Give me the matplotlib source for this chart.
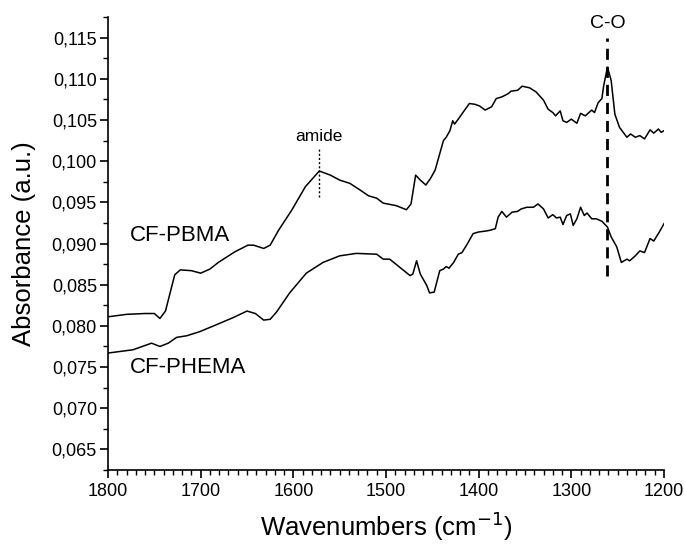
import matplotlib
matplotlib.use('Agg')
import matplotlib.pyplot as plt
from matplotlib.ticker import MultipleLocator, FuncFormatter

plt.rcParams['font.family'] = ['Liberation Sans', 'DejaVu Sans']

# CF-PBMA spectrum
wn_pbma = [1800, 1780, 1760, 1750, 1744, 1738, 1733, 1728, 1722, 1710,
           1700, 1690, 1681, 1663, 1649, 1643, 1632, 1625, 1616, 1602,
           1587, 1572, 1560, 1550, 1539, 1528, 1519, 1510, 1503, 1489,
           1478, 1473, 1468, 1463, 1457, 1452, 1447, 1442, 1438, 1435,
           1431, 1428, 1426, 1422, 1417, 1410, 1404, 1399, 1393, 1386,
           1381, 1375, 1368, 1365, 1358, 1353, 1345, 1338, 1330, 1325,
           1320, 1317, 1312, 1309, 1305, 1300, 1294, 1290, 1285, 1282,
           1278, 1275, 1271, 1267, 1265, 1261, 1257, 1253, 1248, 1240,
           1236, 1231, 1226, 1221, 1215, 1211, 1206, 1203, 1200]
abs_pbma = [0.0811, 0.0814, 0.0815, 0.0815, 0.0809, 0.0818, 0.0840, 0.0862, 0.0868, 0.0867,
            0.0864, 0.0869, 0.0877, 0.0890, 0.0898, 0.0898, 0.0894, 0.0898, 0.0916, 0.0940,
            0.0969, 0.0988, 0.0983, 0.0977, 0.0973, 0.0965, 0.0958, 0.0955, 0.0949, 0.0946,
            0.0941, 0.0948, 0.0983, 0.0977, 0.0971, 0.0979, 0.0989, 0.1009, 0.1025, 0.1029,
            0.1037, 0.1049, 0.1045, 0.1051, 0.1059, 0.1070, 0.1069, 0.1067, 0.1062, 0.1066,
            0.1076, 0.1078, 0.1082, 0.1085, 0.1086, 0.1091, 0.1089, 0.1084, 0.1074, 0.1063,
            0.1059, 0.1055, 0.1061, 0.1049, 0.1047, 0.1051, 0.1046, 0.1058, 0.1055, 0.1058,
            0.1062, 0.1059, 0.1071, 0.1076, 0.1092, 0.1114, 0.1098, 0.1057, 0.1041, 0.1029,
            0.1033, 0.1029, 0.1031, 0.1027, 0.1038, 0.1034, 0.1039, 0.1035, 0.1037]

# CF-PHEMA spectrum
wn_phema = [1800, 1773, 1753, 1744, 1735, 1726, 1715, 1701, 1686, 1665,
            1650, 1641, 1632, 1625, 1618, 1604, 1586, 1568, 1550, 1532,
            1510, 1503, 1496, 1485, 1474, 1471, 1467, 1463, 1456, 1453,
            1448, 1442, 1438, 1435, 1432, 1427, 1422, 1418, 1413, 1406,
            1400, 1393, 1388, 1382, 1379, 1375, 1370, 1364, 1358, 1354,
            1348, 1341, 1336, 1330, 1325, 1320, 1316, 1312, 1309, 1305,
            1301, 1298, 1294, 1290, 1286, 1283, 1278, 1273, 1267, 1261,
            1257, 1251, 1246, 1240, 1237, 1231, 1226, 1221, 1215, 1211,
            1205, 1200]
abs_phema = [0.0767, 0.0771, 0.0779, 0.0775, 0.0779, 0.0786, 0.0788, 0.0793, 0.0800, 0.0810,
             0.0818, 0.0815, 0.0807, 0.0808, 0.0817, 0.0840, 0.0864, 0.0877, 0.0885, 0.0888,
             0.0887, 0.0881, 0.0881, 0.0871, 0.0861, 0.0863, 0.0879, 0.0863, 0.0849, 0.0840,
             0.0841, 0.0867, 0.0869, 0.0872, 0.0870, 0.0877, 0.0887, 0.0889, 0.0898, 0.0912,
             0.0914, 0.0915, 0.0916, 0.0918, 0.0932, 0.0939, 0.0932, 0.0938, 0.0939, 0.0942,
             0.0944, 0.0944, 0.0948, 0.0942, 0.0931, 0.0935, 0.0931, 0.0932, 0.0923, 0.0934,
             0.0936, 0.0922, 0.0930, 0.0944, 0.0934, 0.0937, 0.0930, 0.0930, 0.0927, 0.0920,
             0.0908, 0.0896, 0.0877, 0.0881, 0.0879, 0.0885, 0.0891, 0.0889, 0.0906, 0.0903,
             0.0914, 0.0924]

# band markers
amide_wn = 1572
amide_range = [0.0956, 0.1015]
co_wn = 1261
co_range = [0.0861, 0.1149]

fig = plt.figure(figsize=(6.85, 5.45), dpi=100)
ax = fig.add_axes([0.1577, 0.1376, 0.9693 - 0.1577, 0.9688 - 0.1376])

ax.plot(wn_pbma, abs_pbma, color='black', lw=1.1)
ax.plot(wn_phema, abs_phema, color='black', lw=1.1)

ax.plot([amide_wn, amide_wn], amide_range, color='black', lw=1.0, linestyle=(0, (1.5, 1.5)))
ax.plot([co_wn, co_wn], co_range, color='black', lw=2.0, linestyle=(0, (4, 2.5)))

ax.text(amide_wn, 0.1030, 'amide', ha='center', va='center', fontsize=12.5)
ax.text(co_wn, 0.1167, 'C-O', ha='center', va='center', fontsize=14)
ax.text(1776, 0.0910, 'CF-PBMA', ha='left', va='center', fontsize=16)
ax.text(1776, 0.0750, 'CF-PHEMA', ha='left', va='center', fontsize=16)

ax.set_xlim(1800, 1200)
ax.set_ylim(0.0625, 0.1175)
ax.xaxis.set_major_locator(MultipleLocator(100))
ax.xaxis.set_minor_locator(MultipleLocator(10))
ax.yaxis.set_major_locator(MultipleLocator(0.005))
ax.yaxis.set_minor_locator(MultipleLocator(0.0025))
ax.yaxis.set_major_formatter(FuncFormatter(lambda v, p: f'{v:.3f}'.replace('.', ',')))

for s in ['top', 'right']:
    ax.spines[s].set_visible(False)
for s in ['left', 'bottom']:
    ax.spines[s].set_linewidth(1.2)
ax.tick_params(which='major', direction='out', length=6, width=1.2, labelsize=13)
ax.tick_params(axis='y', which='major', pad=2)
ax.tick_params(which='minor', direction='out', length=3.5, width=1.0)

ax.set_xlabel('Wavenumbers (cm$^{-1}$)', fontsize=18.5, labelpad=7)
ax.set_ylabel('Absorbance (a.u.)', fontsize=18.5, labelpad=11)

fig.savefig('out.png', dpi=100)
